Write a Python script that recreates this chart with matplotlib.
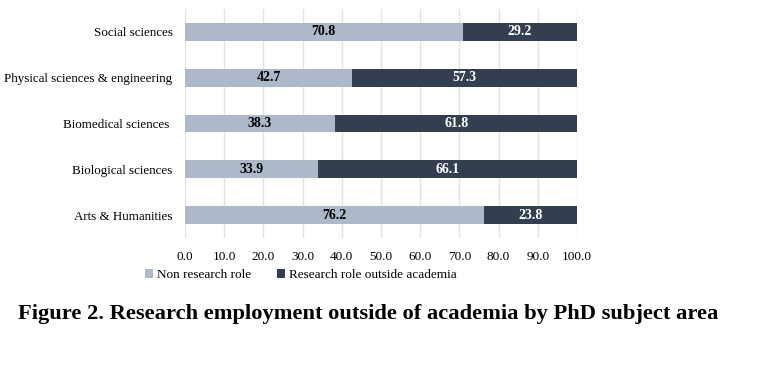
import matplotlib.pyplot as plt

categories = ['Arts & Humanities', 'Biological sciences', 'Biomedical sciences ',
              'Physical sciences & engineering', 'Social sciences']
non_research = [76.2, 33.9, 38.3, 42.7, 70.8]
research_outside = [23.8, 66.1, 61.8, 57.3, 29.2]
series_names = ['Non research role', 'Research role outside academia']

light = '#ADB9CA'
dark = '#333F50'

plt.rcParams['font.family'] = ['Liberation Serif', 'DejaVu Serif']

fig = plt.figure(figsize=(7.84, 3.68), dpi=100)
ax = fig.add_axes([185 / 784, 1 - 238 / 368, 392 / 784, 229 / 368])

y = range(len(categories))
b1 = ax.barh(y, non_research, height=0.39, color=light, label=series_names[0])
b2 = ax.barh(y, research_outside, left=non_research, height=0.39, color=dark,
             label=series_names[1])

# value labels in the middle of each segment
for bar, v in zip(b1, non_research):
    ax.text(bar.get_x() + bar.get_width() / 2, bar.get_y() + bar.get_height() / 2,
            f'{v:.1f}', ha='center', va='center', fontsize=10, fontweight='bold',
            color='black')
for bar, v in zip(b2, research_outside):
    ax.text(bar.get_x() + bar.get_width() / 2, bar.get_y() + bar.get_height() / 2,
            f'{v:.1f}', ha='center', va='center', fontsize=10, fontweight='bold',
            color='white')

ax.set_xlim(0, 100)
ax.set_ylim(-0.5, 4.5)
ax.set_xticks(range(0, 101, 10))
ax.set_xticklabels([f'{t:.1f}' for t in range(0, 101, 10)], fontsize=9.5)
ax.set_yticks(list(y))
ax.set_yticklabels(categories, fontsize=9.4)
ax.tick_params(length=0)
ax.tick_params(axis='x', pad=9)
ax.tick_params(axis='y', pad=9)
for s in ax.spines.values():
    s.set_visible(False)
ax.grid(axis='x', color='#E3E3E3', linewidth=1)
ax.set_axisbelow(True)

fig.legend(handles=[b1, b2], loc='center', bbox_to_anchor=(301 / 784, 1 - 275 / 368),
           ncol=2, frameon=False, fontsize=9.5, handlelength=0.6, handleheight=0.6,
           handletextpad=0.3, columnspacing=2.0)

fig.text(18 / 784, 1 - 314 / 368,
         'Figure 2. Research employment outside of academia by PhD subject area',
         ha='left', va='center', fontsize=16.2, fontweight='bold', color='black')

fig.savefig('out.png', dpi=100)
